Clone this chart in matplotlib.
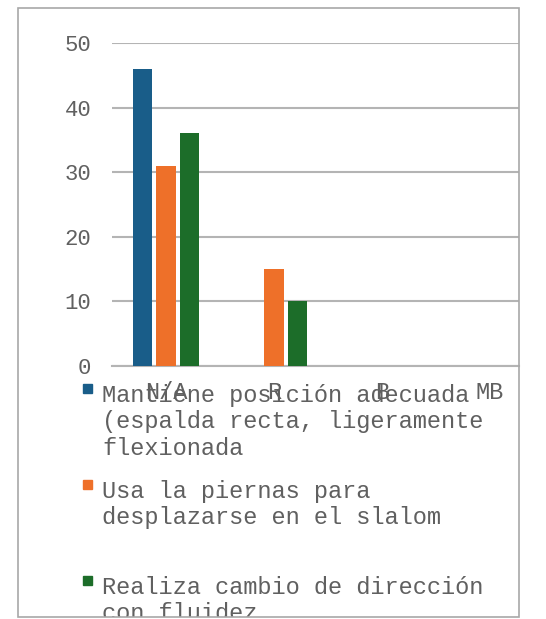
import matplotlib
matplotlib.use("Agg")
import matplotlib.pyplot as plt
from matplotlib.patches import Rectangle
import numpy as np

# --- data ---
categories = ["N/A", "R", "B", "MB"]
series_names = [
    "Mantiene posición adecuada\n(espalda recta, ligeramente\nflexionada",
    "Usa la piernas para\ndesplazarse en el slalom",
    "Realiza cambio de dirección\ncon fluidez",
]
series_values = [
    [46, 0, 0, 0],
    [31, 15, 0, 0],
    [36, 10, 0, 0],
]
colors = ["#195d89", "#ee7029", "#1c6d29"]
yticks = [0, 10, 20, 30, 40, 50]

W, H = 546, 619
FONT = "Liberation Mono"
TXT = "#606060"
GRID = "#b4b4b4"


def fx(px):
    return px / W


def fy(py):
    return 1 - py / H


fig = plt.figure(figsize=(W / 100, H / 100), dpi=100)
fig.patch.set_facecolor("white")

# outer frame of the screenshot
frame = Rectangle((fx(18), fy(617)), fx(519) - fx(18), fy(8) - fy(617),
                  transform=fig.transFigure, fill=False, edgecolor="#a8a8a8",
                  linewidth=1.2, zorder=10)
fig.add_artist(frame)

ax = fig.add_axes([fx(112), fy(366), fx(519) - fx(112), fy(43) - fy(366)])
x = np.arange(len(categories))
bar_w = 0.176
step = 0.222
for i, (vals, c) in enumerate(zip(series_values, colors)):
    ax.bar(x + (i - 1) * step, vals, width=bar_w, color=c, zorder=3)

ax.set_xlim(-0.5, -0.5 + (519 - 112) / 108)
ax.set_ylim(0, 50)
ax.set_yticks(yticks)
ax.set_yticklabels([str(t) for t in yticks], fontfamily=FONT, fontsize=16, color=TXT)
ax.yaxis.grid(True, color=GRID, linewidth=1.5, zorder=0)
ax.tick_params(axis="y", length=0, pad=15)
ax.set_xticks(x)
ax.set_xticklabels(categories, fontfamily=FONT, fontsize=17, color=TXT)
ax.tick_params(axis="x", length=0, pad=11)
for s in ["top", "right", "left"]:
    ax.spines[s].set_visible(False)
ax.spines["bottom"].set_color(GRID)
ax.spines["bottom"].set_linewidth(1.5)

# legend below the chart
entry_tops = [384, 480, 576]
for name, c, top in zip(series_names, colors, entry_tops):
    sq = Rectangle((fx(83), fy(top + 9)), fx(9), fy(0) - fy(9),
                   transform=fig.transFigure, color=c)
    fig.add_artist(sq)
    t = fig.text(fx(102), fy(top), name, fontfamily=FONT, fontsize=17,
                 color=TXT, va="top", ha="left", linespacing=1.19)
    t.set_clip_path(frame)

fig.savefig("out.png", dpi=100)
